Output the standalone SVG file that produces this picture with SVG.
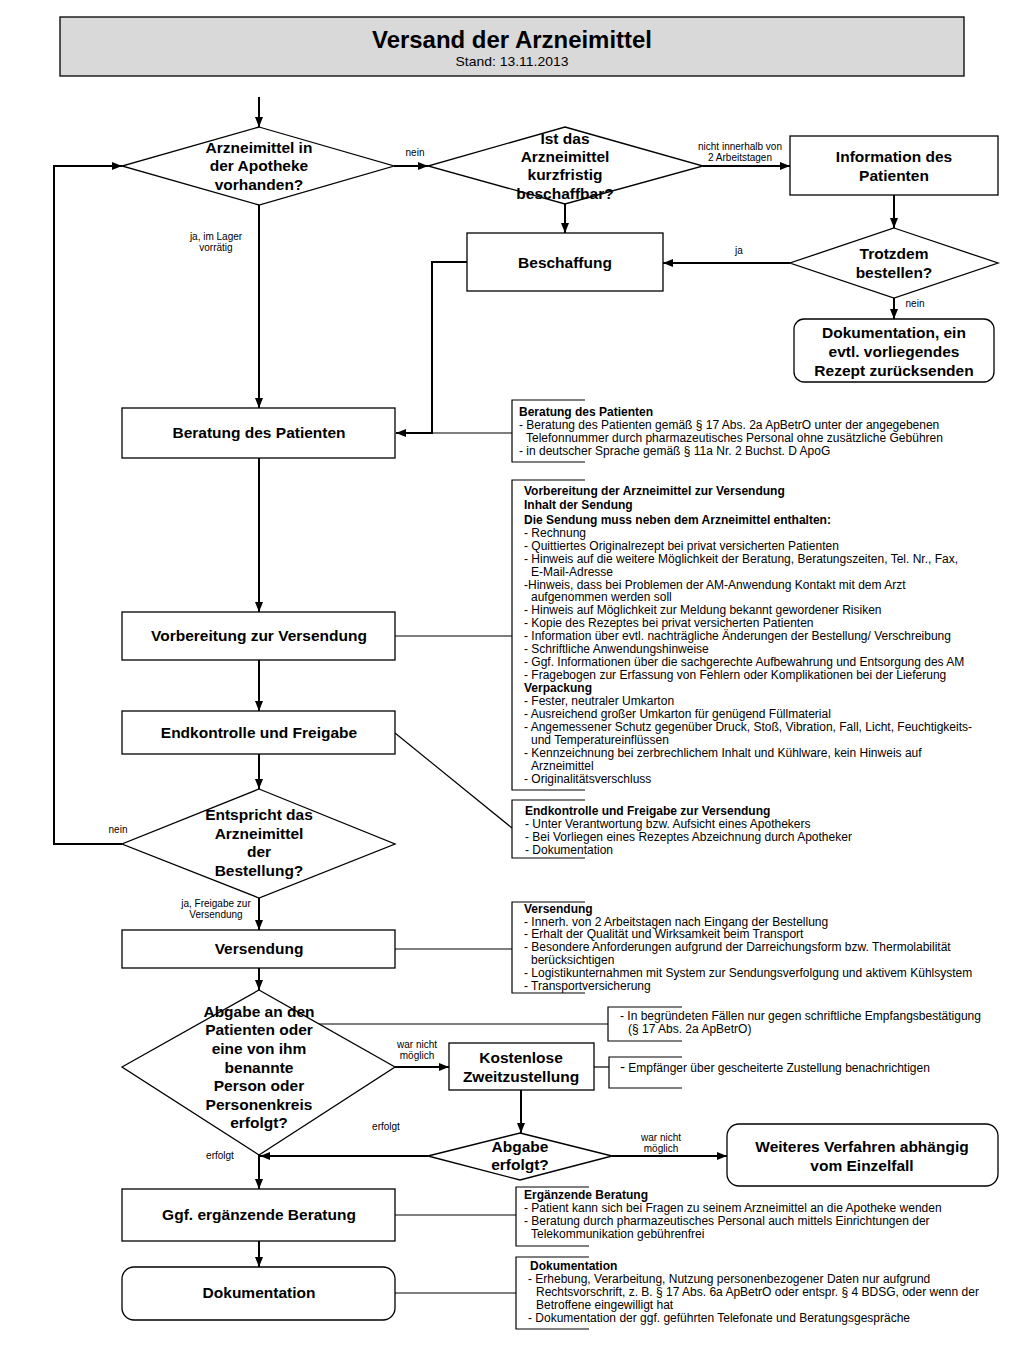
<svg xmlns="http://www.w3.org/2000/svg" width="1023" height="1365" viewBox="0 0 1023 1365">
<defs>
<marker id="ah" markerWidth="10" markerHeight="8" refX="10" refY="4" orient="auto" markerUnits="userSpaceOnUse"><path d="M0,0 L10,4 L0,8 z" fill="#000"/></marker>
<style>
.box{fill:#fff;stroke:#000;stroke-width:1.3}
.dia{fill:#fff;stroke:#000;stroke-width:1.3}
.t{font-family:"Liberation Sans",Arial,sans-serif;font-weight:bold;font-size:15.5px;text-anchor:middle;fill:#000}
.td{font-family:"Liberation Sans",Arial,sans-serif;font-weight:bold;font-size:15.5px;text-anchor:middle;fill:#000}
.lbl{font-family:"Liberation Sans",Arial,sans-serif;font-size:10px;text-anchor:middle;fill:#000}
.n{font-family:"Liberation Sans",Arial,sans-serif;font-size:12px;fill:#000}
.nb{font-weight:bold}
.c{fill:none;stroke:#000;stroke-width:2}
.ca{fill:none;stroke:#000;stroke-width:2;marker-end:url(#ah)}
.br{fill:none;stroke:#000;stroke-width:1.2}
.ln{fill:none;stroke:#000;stroke-width:1.2}
</style>
</defs>
<rect width="1023" height="1365" fill="#fff"/>

<g id="title">
<rect x="60" y="17" width="904" height="59" fill="#d9d9d9" stroke="#000" stroke-width="1.3"/>
<text x="512" y="48" class="t" style="font-size:24px" textLength="280" lengthAdjust="spacingAndGlyphs">Versand der Arzneimittel</text>
<text x="512" y="66" style="font-family:'Liberation Sans',Arial,sans-serif;font-size:13.5px;text-anchor:middle" textLength="113" lengthAdjust="spacingAndGlyphs">Stand: 13.11.2013</text>
</g>

<g id="connectors">
<line x1="259" y1="97" x2="259" y2="127" class="ca"/>
<line x1="394" y1="166" x2="428" y2="166" class="ca"/>
<line x1="703" y1="166" x2="790" y2="166" class="ca"/>
<line x1="894" y1="195" x2="894" y2="228" class="ca"/>
<line x1="790" y1="263" x2="663" y2="263" class="ca"/>
<line x1="565" y1="204" x2="565" y2="233" class="ca"/>
<line x1="894" y1="298" x2="894" y2="319" class="ca"/>
<polyline points="467,262 432,262 432,433 396,433" class="ca"/>
<line x1="259" y1="205" x2="259" y2="408" class="ca"/>
<line x1="259" y1="458" x2="259" y2="612" class="ca"/>
<line x1="259" y1="660" x2="259" y2="711" class="ca"/>
<line x1="259" y1="754" x2="259" y2="789" class="ca"/>
<polyline points="122,844 54,844 54,166 122,166" class="ca"/>
<line x1="259" y1="898" x2="259" y2="930" class="ca"/>
<line x1="259" y1="968" x2="259" y2="990" class="ca"/>
<line x1="395" y1="1067" x2="449" y2="1067" class="ca"/>
<line x1="521" y1="1090" x2="521" y2="1133" class="ca"/>
<line x1="428" y1="1156" x2="260" y2="1156" class="ca"/>
<line x1="612" y1="1156" x2="727" y2="1156" class="ca"/>
<line x1="259" y1="1155" x2="259" y2="1189" class="ca"/>
<line x1="259" y1="1241" x2="259" y2="1267" class="ca"/>
<!-- note connectors -->
<line x1="432" y1="433" x2="512" y2="433" class="ln"/>
<line x1="395" y1="636" x2="512" y2="636" class="ln"/>
<line x1="395" y1="733" x2="512" y2="828" class="ln"/>
<line x1="395" y1="949" x2="512" y2="949" class="ln"/>
<line x1="318" y1="1024" x2="608" y2="1024" class="ln"/>
<line x1="594" y1="1067" x2="609" y2="1067" class="ln"/>
<line x1="395" y1="1215" x2="516" y2="1215" class="ln"/>
<line x1="395" y1="1293" x2="516" y2="1293" class="ln"/>
<!-- labels -->
<text x="415" y="156" class="lbl">nein</text>
<text x="740" y="150" class="lbl">nicht innerhalb von</text>
<text x="740" y="161" class="lbl">2 Arbeitstagen</text>
<text x="739" y="254" class="lbl">ja</text>
<text x="915" y="307" class="lbl">nein</text>
<text x="216" y="240" class="lbl">ja, im Lager</text>
<text x="216" y="251" class="lbl">vorrätig</text>
<text x="118" y="833" class="lbl">nein</text>
<text x="216" y="907" class="lbl">ja, Freigabe zur</text>
<text x="216" y="918" class="lbl">Versendung</text>
<text x="417" y="1048" class="lbl">war nicht</text>
<text x="417" y="1059" class="lbl">möglich</text>
<text x="386" y="1130" class="lbl">erfolgt</text>
<text x="220" y="1159" class="lbl">erfolgt</text>
<text x="661" y="1141" class="lbl">war nicht</text>
<text x="661" y="1152" class="lbl">möglich</text>
</g>

<g id="d-vorhanden">
<polygon points="259,127 394,166 259,205 122,166" class="dia"/>
<text x="259" y="153" class="td">Arzneimittel in</text>
<text x="259" y="171" class="td">der Apotheke</text>
<text x="259" y="190" class="td">vorhanden?</text>
</g>

<g id="d-beschaffbar">
<polygon points="565,127 703,166 565,204 428,166" class="dia"/>
<text x="565" y="144" class="td">Ist das</text>
<text x="565" y="162" class="td">Arzneimittel</text>
<text x="565" y="180" class="td">kurzfristig</text>
<text x="565" y="199" class="td">beschaffbar?</text>
</g>

<g id="n-information">
<rect x="790" y="136" width="208" height="59" class="box"/>
<text x="894" y="162" class="t">Information des</text>
<text x="894" y="181" class="t">Patienten</text>
</g>

<g id="d-trotzdem">
<polygon points="894,228 998,263 894,298 790,263" class="dia"/>
<text x="894" y="259" class="td">Trotzdem</text>
<text x="894" y="278" class="td">bestellen?</text>
</g>

<g id="n-beschaffung">
<rect x="467" y="233" width="196" height="58" class="box"/>
<text x="565" y="268" class="t">Beschaffung</text>
</g>

<g id="n-dok-ruecksenden">
<rect x="794" y="319" width="200" height="63" rx="10" class="box"/>
<text x="894" y="338" class="td">Dokumentation, ein</text>
<text x="894" y="357" class="td">evtl. vorliegendes</text>
<text x="894" y="376" class="td">Rezept zurücksenden</text>
</g>

<g id="n-beratung">
<rect x="122" y="408" width="273" height="50" class="box"/>
<text x="259" y="438" class="t">Beratung des Patienten</text>
</g>

<g id="note-beratung">
<path d="M585,400 H512 V462 H585" class="br"/>
<text class="n nb" x="519" y="416">Beratung des Patienten</text>
<text class="n" x="519" y="429">- Beratung des Patienten gemäß § 17 Abs. 2a ApBetrO unter der angegebenen</text>
<text class="n" x="526" y="442">Telefonnummer durch pharmazeutisches Personal ohne zusätzliche Gebühren</text>
<text class="n" x="519" y="455">- in deutscher Sprache gemäß § 11a Nr. 2 Buchst. D ApoG</text>
</g>

<g id="n-vorbereitung">
<rect x="122" y="612" width="273" height="48" class="box"/>
<text x="259" y="641" class="t">Vorbereitung zur Versendung</text>
</g>

<g id="note-vorbereitung">
<path d="M585,480 H512 V790 H585" class="br"/>
<text class="n nb" x="524" y="495">Vorbereitung der Arzneimittel zur Versendung</text>
<text class="n nb" x="524" y="509">Inhalt der Sendung</text>
<text class="n nb" x="524" y="524">Die Sendung muss neben dem Arzneimittel enthalten:</text>
<text class="n" x="524" y="537">- Rechnung</text>
<text class="n" x="524" y="550">- Quittiertes Originalrezept bei privat versicherten Patienten</text>
<text class="n" x="524" y="563">- Hinweis auf die weitere Möglichkeit der Beratung, Beratungszeiten, Tel. Nr., Fax,</text>
<text class="n" x="531" y="576">E-Mail-Adresse</text>
<text class="n" x="524" y="589">-Hinweis, dass bei Problemen der AM-Anwendung Kontakt mit dem Arzt</text>
<text class="n" x="531" y="601">aufgenommen werden soll</text>
<text class="n" x="524" y="614">- Hinweis auf Möglichkeit zur Meldung bekannt gewordener  Risiken</text>
<text class="n" x="524" y="627">- Kopie des Rezeptes bei privat versicherten Patienten</text>
<text class="n" x="524" y="640">- Information über evtl. nachträgliche Änderungen der Bestellung/ Verschreibung</text>
<text class="n" x="524" y="653">- Schriftliche Anwendungshinweise</text>
<text class="n" x="524" y="666">- Ggf. Informationen über die sachgerechte Aufbewahrung und Entsorgung des AM</text>
<text class="n" x="524" y="679">- Fragebogen zur Erfassung von Fehlern oder  Komplikationen bei der Lieferung</text>
<text class="n nb" x="524" y="692">Verpackung</text>
<text class="n" x="524" y="705">- Fester, neutraler Umkarton</text>
<text class="n" x="524" y="718">- Ausreichend großer Umkarton für genügend Füllmaterial</text>
<text class="n" x="524" y="731">- Angemessener Schutz gegenüber Druck, Stoß, Vibration, Fall, Licht, Feuchtigkeits-</text>
<text class="n" x="531" y="744">und Temperatureinflüssen</text>
<text class="n" x="524" y="757">- Kennzeichnung bei zerbrechlichem Inhalt und Kühlware, kein Hinweis auf</text>
<text class="n" x="531" y="770">Arzneimittel</text>
<text class="n" x="524" y="783">- Originalitätsverschluss</text>
</g>

<g id="n-endkontrolle">
<rect x="122" y="711" width="273" height="43" class="box"/>
<text x="259" y="738" class="t">Endkontrolle und Freigabe</text>
</g>

<g id="note-endkontrolle">
<path d="M585,800 H512 V858 H585" class="br"/>
<text class="n nb" x="525" y="815">Endkontrolle und Freigabe zur Versendung</text>
<text class="n" x="525" y="828">- Unter Verantwortung bzw. Aufsicht eines Apothekers</text>
<text class="n" x="525" y="841">- Bei Vorliegen eines Rezeptes Abzeichnung durch Apotheker</text>
<text class="n" x="525" y="854">- Dokumentation</text>
</g>

<g id="d-entspricht">
<polygon points="259,789 395,844 259,898 122,844" class="dia"/>
<text x="259" y="820" class="td">Entspricht das</text>
<text x="259" y="839" class="td">Arzneimittel</text>
<text x="259" y="857" class="td">der</text>
<text x="259" y="876" class="td">Bestellung?</text>
</g>

<g id="n-versendung">
<rect x="122" y="930" width="273" height="38" class="box"/>
<text x="259" y="954" class="t">Versendung</text>
</g>

<g id="note-versendung">
<path d="M585,902 H512 V993 H585" class="br"/>
<text class="n nb" x="524" y="913">Versendung</text>
<text class="n" x="524" y="926">- Innerh. von 2 Arbeitstagen nach Eingang der Bestellung</text>
<text class="n" x="524" y="938">- Erhalt der Qualität und Wirksamkeit beim Transport</text>
<text class="n" x="524" y="951">- Besondere Anforderungen aufgrund der Darreichungsform bzw. Thermolabilität</text>
<text class="n" x="531" y="964">berücksichtigen</text>
<text class="n" x="524" y="977">- Logistikunternahmen mit System zur Sendungsverfolgung und aktivem Kühlsystem</text>
<text class="n" x="524" y="990">- Transportversicherung</text>
</g>

<g id="d-abgabe">
<polygon points="259,990 395,1067 259,1155 122,1067" class="dia"/>
<text x="259" y="1017" class="td">Abgabe an den</text>
<text x="259" y="1035" class="td">Patienten oder</text>
<text x="259" y="1054" class="td">eine von ihm</text>
<text x="259" y="1073" class="td">benannte</text>
<text x="259" y="1091" class="td">Person oder</text>
<text x="259" y="1110" class="td">Personenkreis</text>
<text x="259" y="1128" class="td">erfolgt?</text>
</g>

<g id="note-empfangsbestaetigung">
<path d="M682,1007 H608 V1041 H682" class="br"/>
<text class="n" x="620" y="1020">- In begründeten Fällen nur gegen schriftliche Empfangsbestätigung</text>
<text class="n" x="628" y="1033">(§ 17 Abs. 2a ApBetrO)</text>
</g>

<g id="n-zweitzustellung">
<rect x="449" y="1043" width="145" height="47" class="box"/>
<text x="521" y="1063" class="t">Kostenlose</text>
<text x="521" y="1082" class="t">Zweitzustellung</text>
</g>

<g id="note-benachrichtigen">
<path d="M682,1057 H609 V1088 H682" class="br"/>
<text class="n" x="620" y="1072"><tspan style="font-size:15px">-</tspan> Empfänger über gescheiterte Zustellung benachrichtigen</text>
</g>

<g id="d-abgabe-erfolgt">
<polygon points="520,1133 612,1156 520,1180 428,1156" class="dia"/>
<text x="520" y="1152" class="td">Abgabe</text>
<text x="520" y="1170" class="td">erfolgt?</text>
</g>

<g id="n-weiteres">
<rect x="727" y="1124" width="271" height="62" rx="12" class="box"/>
<text x="862" y="1152" class="td">Weiteres Verfahren abhängig</text>
<text x="862" y="1171" class="td">vom Einzelfall</text>
</g>

<g id="n-ergaenzende">
<rect x="122" y="1189" width="273" height="52" class="box"/>
<text x="259" y="1220" class="t">Ggf. ergänzende Beratung</text>
</g>

<g id="note-ergaenzende">
<path d="M589,1187 H516 V1246 H589" class="br"/>
<text class="n nb" x="524" y="1199">Ergänzende Beratung</text>
<text class="n" x="524" y="1212">- Patient kann sich bei Fragen zu seinem Arzneimittel an die Apotheke wenden</text>
<text class="n" x="524" y="1225">- Beratung durch pharmazeutisches Personal auch mittels  Einrichtungen der</text>
<text class="n" x="531" y="1238">Telekommunikation gebührenfrei</text>
</g>

<g id="n-dokumentation">
<rect x="122" y="1267" width="273" height="53" rx="12" class="box"/>
<text x="259" y="1298" class="t">Dokumentation</text>
</g>

<g id="note-dokumentation">
<path d="M589,1257 H516 V1329 H589" class="br"/>
<text class="n nb" x="530" y="1270">Dokumentation</text>
<text class="n" x="528" y="1283">- Erhebung, Verarbeitung, Nutzung personenbezogener Daten nur  aufgrund</text>
<text class="n" x="536" y="1296">Rechtsvorschrift, z. B. § 17 Abs. 6a ApBetrO oder entspr. § 4 BDSG, oder wenn der</text>
<text class="n" x="536" y="1309">Betroffene eingewilligt hat</text>
<text class="n" x="528" y="1322">- Dokumentation der ggf. geführten Telefonate und Beratungsgespräche</text>
</g>
</svg>
